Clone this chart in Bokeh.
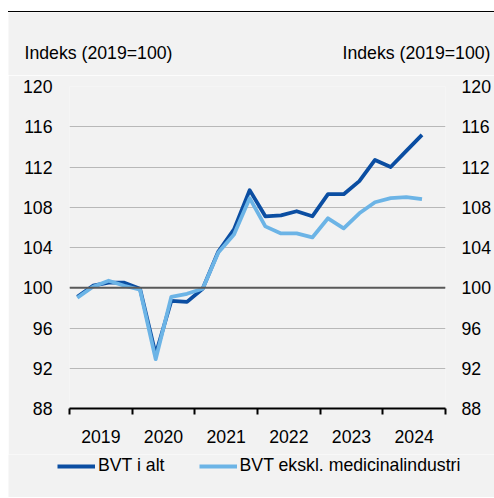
from bokeh.plotting import figure
from bokeh.models import (Range1d, FixedTicker, LinearAxis, Span, Label, Legend,
                          LegendItem, ColumnDataSource)
from bokeh.layouts import column
from bokeh.embed import file_html
from bokeh.resources import INLINE

# ---- data ----
years = ["2019", "2020", "2021", "2022", "2023", "2024"]
quarters_per_year = 4
bvt_total = [99.1, 100.2, 100.5, 100.5, 99.9, 93.4, 98.7, 98.6, 99.9, 103.6, 105.8, 109.7,
             107.1, 107.2, 107.6, 107.1, 109.3, 109.3, 110.6, 112.7, 112.0, 113.6, 115.2]
bvt_ex_pharma = [99.0, 100.1, 100.7, 100.2, 99.8, 92.9, 99.1, 99.4, 99.9, 103.5, 105.3, 108.9,
                 106.1, 105.4, 105.4, 105.0, 106.9, 105.9, 107.4, 108.5, 108.9, 109.0, 108.8]
series_names = ["BVT i alt", "BVT ekskl. medicinalindustri"]
y_ticks = [88, 92, 96, 100, 104, 108, 112, 116, 120]
y_title = "Indeks (2019=100)"

FONT = "Liberation Sans"
FS = "17.7px"
BG = "#f2f2f2"
DARK = "#0b4ea2"
LIGHT = "#6cb4e6"
LW = 3.8
W = 486

n_q = len(years) * quarters_per_year
x_idx = list(range(len(bvt_total)))
year_centers = [i * quarters_per_year + (quarters_per_year - 1) / 2 for i in range(len(years))]
year_bounds = [i * quarters_per_year - 0.5 for i in range(len(years) + 1)]

src = ColumnDataSource(dict(x=x_idx, a=bvt_total, b=bvt_ex_pharma))


def blank(height):
    f = figure(width=W, height=height, output_backend="svg", toolbar_location=None,
               x_axis_type=None, y_axis_type=None,
               x_range=Range1d(0, W), y_range=Range1d(height, 0),
               background_fill_color=BG, border_fill_color=BG,
               min_border_left=0, min_border_right=0, min_border_top=0, min_border_bottom=0)
    f.frame_align = False
    f.outline_line_color = None
    f.grid.visible = False
    return f


# ---- header with the two axis titles ----
header = blank(64)
header.styles = {"border-top": "1px solid black"}
header.add_layout(Label(x=16, y=40, text=y_title, text_align="left",
                        text_baseline="alphabetic", text_font=FONT, text_font_size=FS,
                        text_color="black"))
header.add_layout(Label(x=482, y=40, text=y_title, text_align="right",
                        text_baseline="alphabetic", text_font=FONT, text_font_size=FS,
                        text_color="black"))

# ---- main chart ----
p = figure(width=W, height=379, output_backend="svg", toolbar_location=None,
           x_range=Range1d(-0.5, n_q - 0.5), y_range=Range1d(y_ticks[0], y_ticks[-1]),
           background_fill_color=BG, border_fill_color=BG,
           min_border_left=61, min_border_right=49, min_border_top=11, min_border_bottom=46)
p.frame_align = False
p.outline_line_color = None
p.yaxis.visible = False
p.xaxis.visible = False
p.xgrid.visible = False

p.ygrid.ticker = FixedTicker(ticks=y_ticks)
p.ygrid.grid_line_color = "#b8b8b8"
p.ygrid.grid_line_width = 1

xa = LinearAxis(ticker=FixedTicker(ticks=year_centers, minor_ticks=year_bounds),
                major_label_overrides={c: y for c, y in zip(year_centers, years)})
xa.major_tick_line_color = None
xa.major_tick_out = 0
xa.major_tick_in = 0
xa.minor_tick_line_color = "black"
xa.minor_tick_line_width = 2
xa.minor_tick_out = 6
xa.minor_tick_in = 0
xa.axis_line_color = "black"
xa.axis_line_width = 2
xa.major_label_standoff = 15
xa.major_label_text_font = FONT
xa.major_label_text_font_size = FS
xa.major_label_text_color = "black"
p.add_layout(xa, "below")

for side in ("left", "right"):
    ya = LinearAxis(ticker=FixedTicker(ticks=y_ticks))
    ya.axis_line_color = None
    ya.major_tick_line_color = None
    ya.minor_tick_line_color = None
    ya.major_tick_out = 0
    ya.major_tick_in = 0
    ya.major_label_standoff = 17 if side == "left" else 16
    ya.major_label_text_font = FONT
    ya.major_label_text_font_size = FS
    ya.major_label_text_color = "black"
    p.add_layout(ya, side)

p.add_layout(Span(location=100, dimension="width", line_color="#595959", line_width=2))

p.line("x", "a", source=src, line_color=DARK, line_width=LW, line_join="round")
p.line("x", "b", source=src, line_color=LIGHT, line_width=LW, line_join="round")

# ---- footer with the legend ----
footer = blank(43)
k1 = footer.line(x=[-100, -90], y=[-100, -100], line_color=DARK, line_width=LW)
k2 = footer.line(x=[-100, -90], y=[-100, -100], line_color=LIGHT, line_width=LW)
legend = Legend(items=[LegendItem(label=series_names[0], renderers=[k1]),
                       LegendItem(label=series_names[1], renderers=[k2])],
                orientation="horizontal", location=(49, 21),
                glyph_width=38, glyph_height=18, label_standoff=3, spacing=34,
                padding=0, margin=0, background_fill_alpha=0, border_line_color=None,
                label_text_font=FONT, label_text_font_size=FS, label_text_color="black")
footer.add_layout(legend)

layout = column(header, p, footer, spacing=0)
layout.styles = {"margin-left": "8px", "margin-top": "11px"}

html = file_html(layout, INLINE)
html = html.replace("</head>", "<style>html,body{overflow:hidden;}</style></head>", 1)
open("out.html", "w").write(html)
